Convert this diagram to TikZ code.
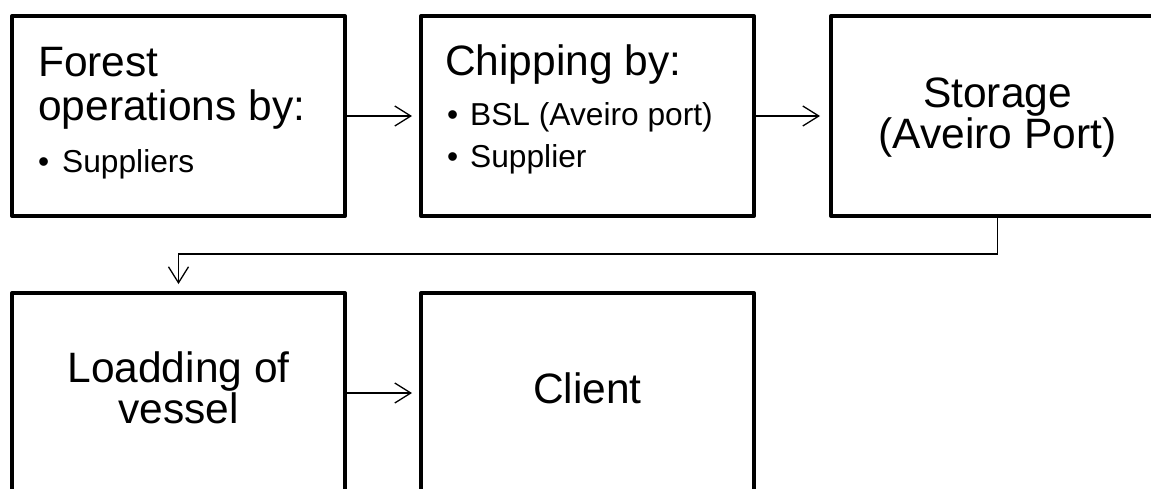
\documentclass[tikz,border=0pt]{standalone}
\usepackage{fontspec}
\setmainfont{Liberation Sans}
\usetikzlibrary{arrows.meta}
\begin{document}
\begin{tikzpicture}[x=1pt,y=-1pt,
  box/.style={draw, line width=4pt, line join=round, minimum width=333pt, minimum height=200pt, inner sep=0pt, outer sep=0pt},
  big/.style={font=\fontsize{42.5}{44}\selectfont, inner sep=0pt},
  small/.style={font=\fontsize{31.7}{36}\selectfont, inner sep=0pt},
  link/.style={line width=1.3pt, -{Straight Barb[length=16pt,width=20pt,line width=1.3pt]}}]
\useasboundingbox (0,0) rectangle (1151,488);
\node[box] (b1) at (178.5,116) {};
\node[box] (b2) at (587.5,116) {};
\node[box] (b3) at (997.5,116) {};
\node[box] (b4) at (178.5,393) {};
\node[box] (b5) at (587.5,393) {};
% texts
\node[big, anchor=base west] (t1a) at (38,76) {Forest};
\node[big, anchor=base west] (t1b) at (38,120) {operations by:};
\node[small, anchor=base west] (t1c) at (38,172) {•};
\node[small, anchor=base west] (t1d) at (62,172) {Suppliers};
\node[big, anchor=base west] (t2a) at (445,75) {Chipping by:};
\node[small, anchor=base west] (t2b) at (447,125) {•};
\node[small, anchor=base west] (t2c) at (470,125) {BSL (Aveiro port)};
\node[small, anchor=base west] (t2d) at (447,167) {•};
\node[small, anchor=base west] (t2e) at (470,167) {Supplier};
\node[big, anchor=base] (t3a) at (997.5,107) {Storage};
\node[big, anchor=base] (t3b) at (997.5,148) {(Aveiro Port)};
\node[big, anchor=base] (t4a) at (178.5,382) {Loadding of};
\node[big, anchor=base] (t4b) at (178.5,423) {vessel};
\node[big, anchor=base] (t5) at (587.5,403) {Client};
% connectors
\coordinate (bend) at (997.5,254);
\draw[link, shorten >=9pt] (b1.east) -- (b2.west);
\draw[link, shorten >=11pt] (b2.east) -- (b3.west);
\draw[link, shorten >=9pt] (b3.south) -- (bend) -| (b4.north);
\draw[link, shorten >=9pt] (b4.east) -- (b5.west);
\end{tikzpicture}
\end{document}
